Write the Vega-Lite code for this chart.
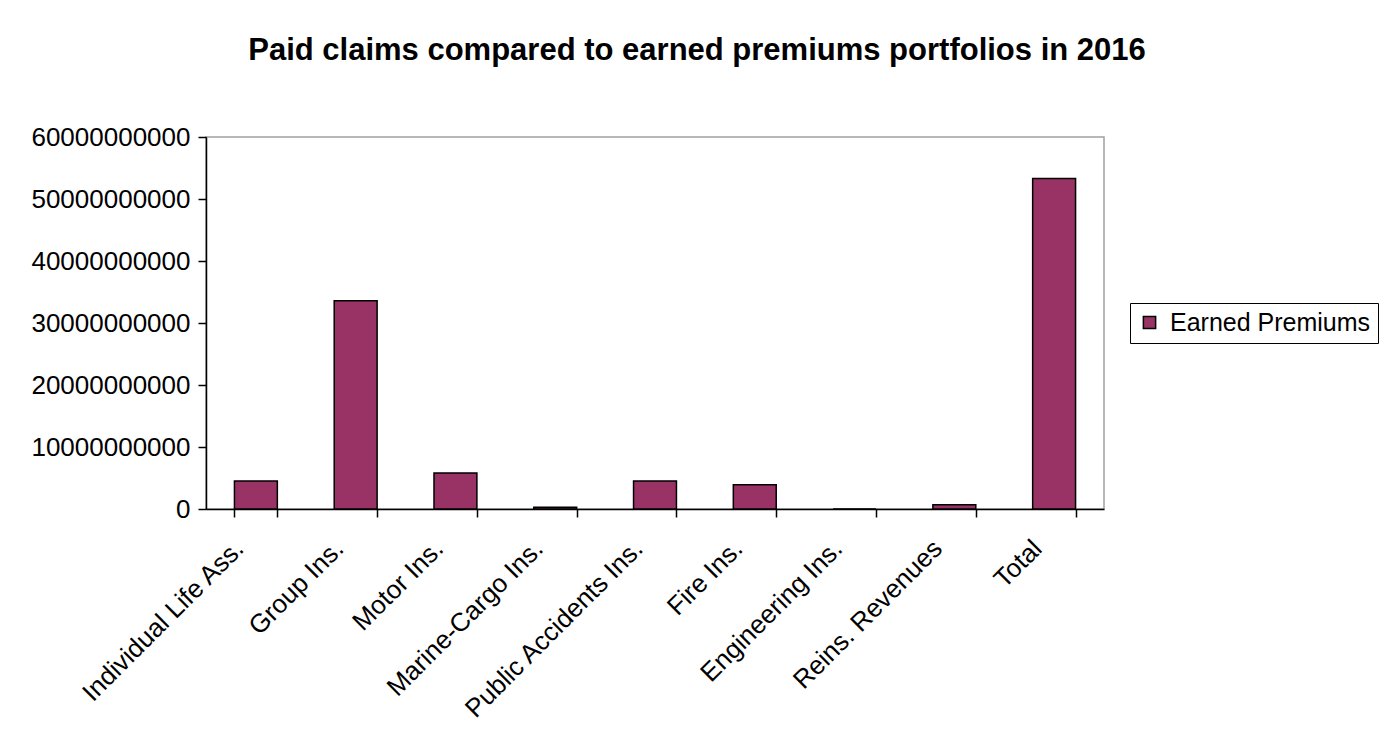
{
  "$schema": "https://vega.github.io/schema/vega-lite/v6.json",
  "autosize": {"type": "none"},
  "width": 898,
  "height": 372,
  "padding": {"left": 206, "top": 137, "right": 280, "bottom": 237},
  "background": "white",
  "title": {
    "text": "Paid claims compared to earned premiums portfolios in 2016",
    "font": "Liberation Sans",
    "fontSize": 31,
    "fontWeight": "bold",
    "color": "black",
    "anchor": "middle",
    "dx": 42,
    "offset": 57
  },
  "data": {
    "values": [
      {"portfolio": "Individual Life Ass.", "series": "Earned Premiums", "value": 4500000000},
      {"portfolio": "Group Ins.", "series": "Earned Premiums", "value": 33600000000},
      {"portfolio": "Motor Ins.", "series": "Earned Premiums", "value": 5800000000},
      {"portfolio": "Marine-Cargo Ins.", "series": "Earned Premiums", "value": 300000000},
      {"portfolio": "Public Accidents Ins.", "series": "Earned Premiums", "value": 4500000000},
      {"portfolio": "Fire Ins.", "series": "Earned Premiums", "value": 3900000000},
      {"portfolio": "Engineering Ins.", "series": "Earned Premiums", "value": 0},
      {"portfolio": "Reins. Revenues", "series": "Earned Premiums", "value": 700000000},
      {"portfolio": "Total", "series": "Earned Premiums", "value": 53300000000}
    ]
  },
  "mark": {"type": "bar", "stroke": "black", "strokeWidth": 1.5},
  "encoding": {
    "x": {
      "field": "portfolio",
      "type": "nominal",
      "sort": null,
      "scale": {"paddingInner": 0.57, "paddingOuter": 0.285},
      "axis": {
        "title": null,
        "labelAngle": -45,
        "labelAlign": "right",
        "labelBaseline": "top",
        "labelFont": "Liberation Sans",
        "labelFontSize": 26,
        "labelColor": "black",
        "labelPadding": 18,
        "labelOffset": -26,
        "labelLimit": 0,
        "tickBand": "extent",
        "tickSize": 8,
        "tickColor": "black",
        "tickWidth": 1.5,
        "domainColor": "black",
        "domainWidth": 1.5,
        "labelOverlap": false
      }
    },
    "y": {
      "field": "value",
      "type": "quantitative",
      "scale": {"domain": [0, 60000000000], "nice": false},
      "axis": {
        "title": null,
        "values": [0, 10000000000, 20000000000, 30000000000, 40000000000, 50000000000, 60000000000],
        "format": "d",
        "grid": false,
        "labelFont": "Liberation Sans",
        "labelFontSize": 26,
        "labelColor": "black",
        "labelPadding": 8,
        "labelLimit": 0,
        "tickSize": 8,
        "tickColor": "black",
        "tickWidth": 1.5,
        "domainColor": "black",
        "domainWidth": 1.5
      }
    },
    "color": {
      "field": "series",
      "type": "nominal",
      "scale": {"range": ["#993366"]},
      "legend": {
        "title": null,
        "orient": "none",
        "legendX": 924,
        "legendY": 166,
        "strokeColor": "black",
        "padding": 7,
        "symbolType": "square",
        "symbolSize": 150,
        "symbolStrokeColor": "black",
        "symbolStrokeWidth": 1.5,
        "labelFont": "Liberation Sans",
        "labelFontSize": 25,
        "labelColor": "black",
        "labelOffset": 8,
        "labelLimit": 0
      }
    }
  },
  "config": {
    "view": {"stroke": "#a0a0a0", "strokeWidth": 1.5}
  }
}
